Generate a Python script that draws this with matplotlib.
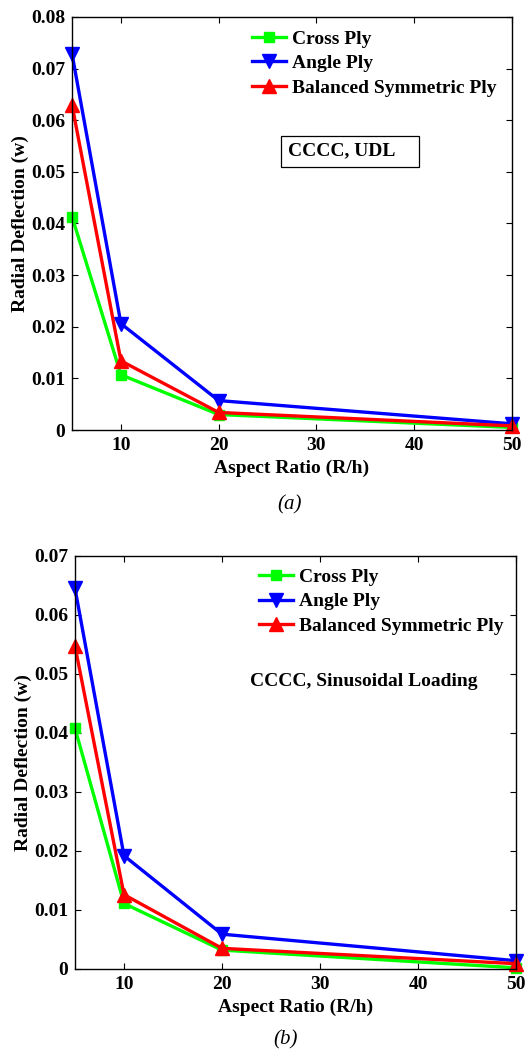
import matplotlib.pyplot as plt
from matplotlib.patches import Rectangle

plt.rcParams['font.family'] = ['Liberation Serif', 'DejaVu Serif']
plt.rcParams['font.weight'] = 'bold'
plt.rcParams['axes.labelweight'] = 'bold'
plt.rcParams['font.size'] = 14

# aspect ratio R/h
aspect = [5, 10, 20, 50]
labels = ['Cross Ply', 'Angle Ply', 'Balanced Symmetric Ply']

# (a) CCCC, UDL
udl_cross = [0.0413, 0.0107, 0.0030, 0.0005]
udl_angle = [0.0728, 0.0206, 0.0057, 0.0012]
udl_balanced = [0.0629, 0.0134, 0.0034, 0.0008]

# (b) CCCC, sinusoidal loading
sin_cross = [0.0408, 0.0111, 0.0032, 0.0002]
sin_angle = [0.0645, 0.0192, 0.0059, 0.0014]
sin_balanced = [0.0547, 0.0126, 0.0035, 0.0009]

colors = ['#00ff00', '#0000ff', '#ff0000']
markers = ['s', 'v', '^']
msizes = [7, 9.5, 9.5]

fig = plt.figure(figsize=(5.26, 10.56), dpi=100)
ax1 = fig.add_axes([0.137, 0.5928, 0.836, 0.3912])
ax2 = fig.add_axes([0.1426, 0.0824, 0.8384, 0.3911])


def draw(ax, series, ymax, ystep):
    for y, c, m, ms, lab in zip(series, colors, markers, msizes, labels):
        ax.plot(aspect, y, color=c, marker=m, markersize=ms, linewidth=2.4,
                markerfacecolor=c, markeredgecolor=c, label=lab, clip_on=False)
    n = int(round(ymax / ystep))
    ax.set_xlim(5, 50)
    ax.set_ylim(0, ymax)
    ax.set_xticks([10, 20, 30, 40, 50])
    ax.set_yticks([i * ystep for i in range(n + 1)])
    ax.set_yticklabels(['0'] + ['%.2f' % (i * ystep) for i in range(1, n + 1)])
    ax.tick_params(direction='in', top=True, right=True, length=4, width=0.8, pad=5)
    ax.set_xlabel('Aspect Ratio (R/h)', labelpad=4)
    ax.set_ylabel('Radial Deflection (w)', labelpad=1)
    for s in ax.spines.values():
        s.set_linewidth(1.0)


draw(ax1, [udl_cross, udl_angle, udl_balanced], 0.08, 0.01)
draw(ax2, [sin_cross, sin_angle, sin_balanced], 0.07, 0.01)

leg_kw = dict(loc='upper left', frameon=False, numpoints=1, handlelength=1.75,
              handletextpad=0.3, labelspacing=0.35, borderpad=0, borderaxespad=0)
ax1.legend(bbox_to_anchor=(0.41, 0.968), **leg_kw)
ax2.legend(bbox_to_anchor=(0.418, 0.97), **leg_kw)

ax1.add_patch(Rectangle((0.475, 0.637), 0.314, 0.075, transform=ax1.transAxes,
                        fill=False, edgecolor='black', linewidth=0.9))
ax1.text(0.49, 0.675, 'CCCC, UDL', transform=ax1.transAxes, va='center', ha='left')
ax2.text(0.397, 0.697, 'CCCC, Sinusoidal Loading', transform=ax2.transAxes,
         va='center', ha='left')

fig.text(0.551, 1 - 505 / 1056, '(a)', ha='center', va='center', style='italic',
         fontweight='normal', fontsize=15)
fig.text(0.543, 1 - 1040 / 1056, '(b)', ha='center', va='center', style='italic',
         fontweight='normal', fontsize=15)

fig.savefig('out.png', dpi=100)
